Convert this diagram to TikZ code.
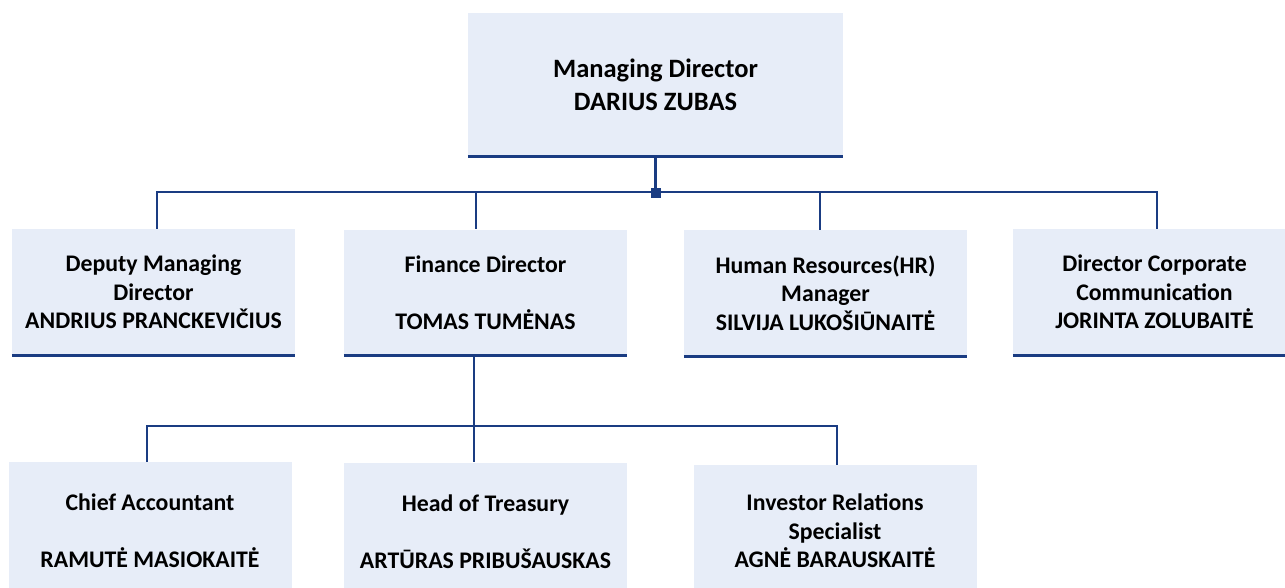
\documentclass[tikz,border=0pt]{standalone}
\usepackage{fontspec}
\setmainfont{Carlito}
\definecolor{boxfill}{RGB}{231,237,248}
\definecolor{navy}{RGB}{26,60,130}
\tikzset{
  unit/.style={rectangle, fill=boxfill, inner sep=0pt, align=center,
    font=\bfseries\fontsize{23.8}{28.5}\selectfont,
    minimum width=283pt, minimum height=126pt},
  lowunit/.style={unit, minimum height=138pt},
  rule/.style={draw=navy, line width=3.2pt},
  wire/.style={draw=navy, line width=2.6pt},
  joint/.style={rectangle, fill=navy, inner sep=0pt, minimum size=10pt},
}
\begin{document}
\begin{tikzpicture}[x=1pt,y=-1pt]
\useasboundingbox (0,0) rectangle (1285,587);
\clip (0,0) rectangle (1285,587);

% top level
\node[unit, minimum width=375pt, minimum height=143pt,
      font=\bfseries\fontsize{26.5}{33}\selectfont] (md) at (655.5,84.5)
  {Managing Director\\DARIUS ZUBAS};

% second level
\node[unit] (dep) at (153.5,292) {Deputy Managing\\Director\\ANDRIUS PRANCKEVIČIUS};
\node[unit] (fin) at (485.5,292.5) {Finance Director\\[28.5pt]TOMAS TUMĖNAS};
\node[unit] (hr)  at (825.5,293) {Human Resources(HR)\\Manager\\SILVIJA LUKOŠIŪNAITĖ};
\node[unit] (dcc) at (1154.5,292) {Director Corporate\\Communication\\JORINTA ZOLUBAITĖ};

% third level
\node[lowunit] (ca) at (150,531) {Chief Accountant\\[28.5pt]RAMUTĖ MASIOKAITĖ};
\node[lowunit] (ht) at (485.5,531.5) {Head of Treasury\\[28.5pt]ARTŪRAS PRIBUŠAUSKAS};
\node[lowunit, minimum height=132pt] (ir) at (835,531) {Investor Relations\\Specialist\\AGNĖ BARAUSKAITĖ};

% bottom rules of the boxes
\foreach \b in {md,dep,fin,hr,dcc}
  \draw[rule] (\b.south west) -- (\b.south east);

% connectors from the managing director
\coordinate (hub)  at (655.5,193);
\coordinate (busL) at (157,192);
\coordinate (busR) at (1157,192);
\coordinate (tapF) at (476,192);
\coordinate (tapH) at (820,192);
\draw[wire] (md.south) -- (hub);
\draw[wire] (busL |- dep.north) -- (busL) -- (busR) -- (busR |- dcc.north);
\draw[wire] (tapF) -- (tapF |- fin.north);
\draw[wire] (tapH) -- (tapH |- hr.north);
\node[joint] (jn) at (hub) {};

% connectors from the finance director
\coordinate (fork) at (474,426);
\coordinate (b2L)  at (147,426);
\coordinate (b2R)  at (837,426);
\draw[wire] (fork |- fin.south) -- (fork);
\draw[wire] (b2L |- ca.north) -- (b2L) -- (b2R) -- (b2R |- ir.north);
\draw[wire] (fork) -- (fork |- ht.north);
\end{tikzpicture}
\end{document}
